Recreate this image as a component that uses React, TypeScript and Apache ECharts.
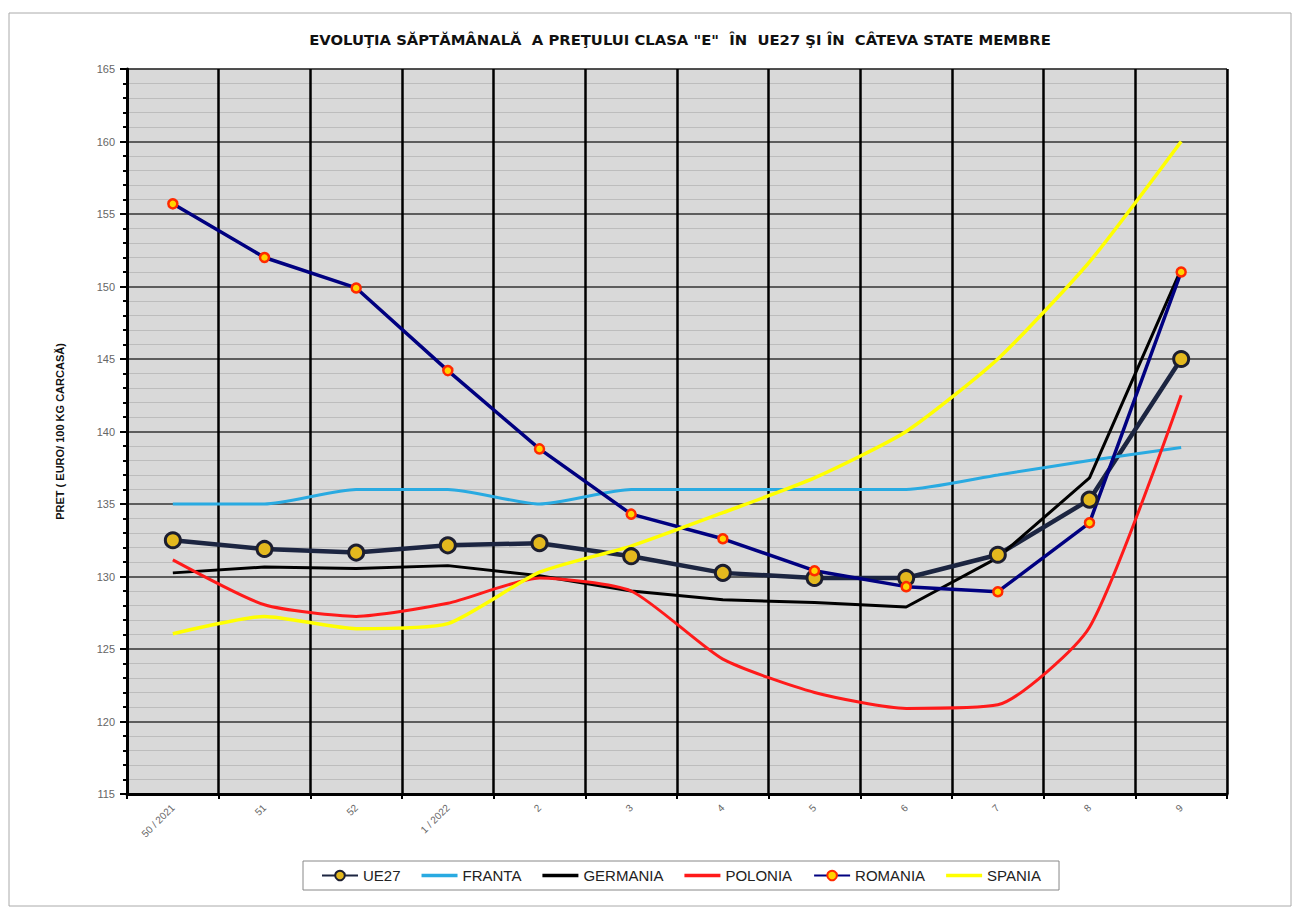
import React, { useEffect, useRef } from "react";
import * as echarts from "echarts";

const categories = ["50 / 2021", "51", "52", "1 / 2022", "2", "3", "4", "5", "6", "7", "8", "9"];
const ue27 = [132.5, 131.9, 131.65, 132.15, 132.3, 131.4, 130.25, 129.9, 129.9, 131.5, 135.3, 145.0];
const franta = [135, 135, 136, 136, 135, 136, 136, 136, 136, 137, 138, 138.9];
const germania = [130.25, 130.65, 130.55, 130.75, 130.05, 129.0, 128.4, 128.2, 127.9, 131.3, 136.8, 151.2];
const polonia = [131.15, 128.05, 127.25, 128.15, 129.9, 129.0, 124.3, 122.0, 120.9, 121.15, 126.5, 142.5];
const romania = [155.7, 152.0, 149.9, 144.2, 138.8, 134.3, 132.6, 130.4, 129.3, 128.95, 133.7, 151.0];
const spania = [126.05, 127.25, 126.4, 126.75, 130.3, 132.1, 134.4, 136.8, 140.0, 145.0, 151.7, 160.0];

const titleText = 'EVOLUŢIA SĂPTĂMÂNALĂ  A PREŢULUI CLASA "E"  ÎN  UE27 ŞI ÎN  CÂTEVA STATE MEMBRE';
const yName = "PRET ( EURO/ 100 KG CARCASĂ)";

const lineIcon = "path://M0,0 L40,0 L40,4 L0,4 Z";

export default function App() {
  const ref = useRef<HTMLDivElement>(null);
  useEffect(() => {
    if (!ref.current) return;
    const chart = echarts.init(ref.current, undefined, { renderer: "svg" });
    const font = "'Liberation Sans', Arial, sans-serif";
    chart.setOption({
      animation: false,
      backgroundColor: "#ffffff",
      textStyle: { fontFamily: font },
      title: {
        text: titleText,
        left: 675,
        top: 27,
        textAlign: "center",
        textStyle: { fontSize: 14.8, fontWeight: "bold", color: "#111", fontFamily: "'DejaVu Sans', sans-serif" },
      },
      graphic: [
        {
          type: "rect",
          shape: { x: 9, y: 13, width: 1282, height: 893 },
          style: { fill: "none", stroke: "#aaaaaa", lineWidth: 1 },
          silent: true,
          z: -10,
        },
      ],
      legend: {
        left: 303,
        top: 861,
        width: 780,
        borderColor: "#888",
        borderWidth: 1,
        padding: [7, 18],
        itemGap: 21,
        itemWidth: 36,
        itemHeight: 12,
        textStyle: { fontSize: 15, color: "#222", fontFamily: font },
        data: [
          { name: "UE27" },
          { name: "FRANTA", icon: lineIcon, itemStyle: { color: "#29AAE1" } },
          { name: "GERMANIA", icon: lineIcon, itemStyle: { color: "#000000" } },
          { name: "POLONIA", icon: lineIcon, itemStyle: { color: "#FF1A1A" } },
          { name: "ROMANIA" },
          { name: "SPANIA", icon: lineIcon, itemStyle: { color: "#FFFF00" } },
        ],
      },
      grid: {
        left: 127,
        top: 69,
        width: 1100,
        height: 725,
        show: true,
        backgroundColor: "#D9D9D9",
        borderColor: "#555",
        borderWidth: 1,
      },
      xAxis: {
        type: "category",
        data: categories,
        boundaryGap: true,
        axisLine: { lineStyle: { color: "#000", width: 3 } },
        axisTick: { show: true, length: 5, lineStyle: { color: "#000", width: 2 } },
        axisLabel: { rotate: 45, color: "#666", fontSize: 10, margin: 12, fontFamily: font },
        splitLine: { show: true, lineStyle: { color: "#000", width: 2.5 } },
      },
      yAxis: {
        type: "value",
        min: 115,
        max: 165,
        interval: 5,
        name: yName,
        nameLocation: "middle",
        nameRotate: 90,
        nameGap: 62,
        nameTextStyle: { fontSize: 11, fontWeight: "bold", color: "#111", fontFamily: font },
        axisLine: { show: true, lineStyle: { color: "#000", width: 3 } },
        axisTick: { show: true, length: 7, lineStyle: { color: "#000", width: 2 } },
        minorTick: { show: true, splitNumber: 5, length: 4, lineStyle: { color: "#000", width: 2 } },
        axisLabel: { color: "#666", fontSize: 11, margin: 12, fontFamily: font },
        splitLine: { show: true, lineStyle: { color: "#333", width: 1.5 } },
        minorSplitLine: { show: true, lineStyle: { color: "#BDBDBD", width: 1 } },
      },
      series: [
        {
          name: "UE27",
          type: "line",
          data: ue27,
          symbol: "circle",
          symbolSize: 15,
          lineStyle: { color: "#1C2541", width: 4.5 },
          itemStyle: { color: "#E3B81E", borderColor: "#1C1E30", borderWidth: 3 },
        },
        {
          name: "FRANTA",
          type: "line",
          data: franta,
          symbol: "none",
          smooth: 0.2,
          lineStyle: { color: "#29AAE1", width: 3 },
          itemStyle: { color: "#29AAE1" },
        },
        {
          name: "GERMANIA",
          type: "line",
          data: germania,
          symbol: "none",
          lineStyle: { color: "#000000", width: 3 },
          itemStyle: { color: "#000000" },
        },
        {
          name: "POLONIA",
          type: "line",
          data: polonia,
          symbol: "none",
          smooth: 0.2,
          lineStyle: { color: "#FF1A1A", width: 3 },
          itemStyle: { color: "#FF1A1A" },
        },
        {
          name: "ROMANIA",
          type: "line",
          data: romania,
          symbol: "circle",
          symbolSize: 9,
          lineStyle: { color: "#000080", width: 3.5 },
          itemStyle: { color: "#FFD400", borderColor: "#FF2A00", borderWidth: 2.5 },
        },
        {
          name: "SPANIA",
          type: "line",
          data: spania,
          symbol: "none",
          smooth: 0.2,
          lineStyle: { color: "#FFFF00", width: 3.5 },
          itemStyle: { color: "#FFFF00" },
        },
      ],
    });
    return () => chart.dispose();
  }, []);
  return (
    <div
      ref={ref}
      style={{ position: "fixed", left: 0, top: 0, width: 1294, height: 911, background: "#fff" }}
    />
  );
}
